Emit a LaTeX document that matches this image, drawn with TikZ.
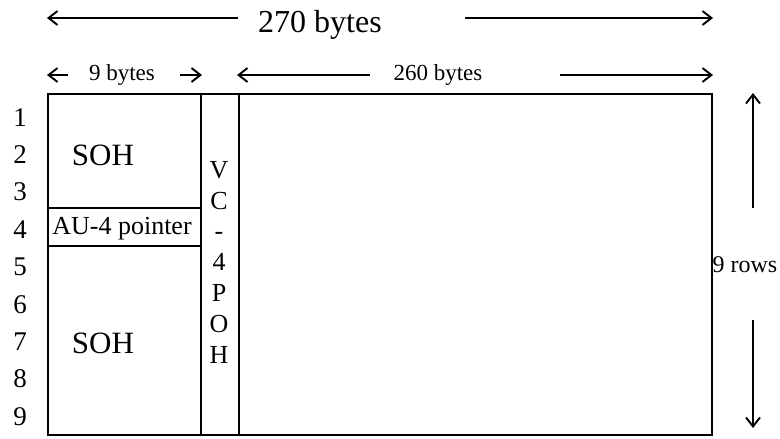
\documentclass[tikz,border=0pt]{standalone}
\usepackage{fontspec}
\setmainfont{Liberation Serif}
\usetikzlibrary{arrows.meta}
\begin{document}
\begin{tikzpicture}[x=1pt,y=-1pt,
  dimarrow/.style={line width=1.7pt,-{Straight Barb[length=9pt,width=14pt,line width=1.9pt]}},
  lbl/.style={inner sep=0pt,anchor=base},
  frame/.style={line width=1.6pt},
  thinframe/.style={line width=1.1pt}]
\useasboundingbox (0,0) rectangle (780,439);
% main frame
\draw[frame] (48,94) rectangle (712,435);
\draw[line width=2.2pt] (201,94) -- (201,435);
\draw[thinframe] (239,94) -- (239,435);
\draw[frame] (48,208) -- (201,208);
\draw[frame] (48,246) -- (201,246);
% texts
\node[lbl,font=\fontsize{32}{38}\selectfont] (t270) at (320,32) {270 bytes};
\node[lbl,font=\fontsize{23}{28}\selectfont] (t9) at (122,80) {9 bytes};
\node[lbl,font=\fontsize{23}{28}\selectfont] (t260) at (438,80) {260 bytes};
\node[lbl,font=\fontsize{31}{36}\selectfont] (soh1) at (103,165) {SOH};
\node[lbl,font=\fontsize{31}{36}\selectfont] (soh2) at (103,353) {SOH};
\node[lbl,font=\fontsize{26}{30}\selectfont] (au) at (122,234) {AU-4 pointer};
\node[lbl,font=\fontsize{24}{28}\selectfont] (rows) at (745,272) {9 rows};
\node[inner sep=0pt,anchor=north,align=center,font=\fontsize{26}{30.8}\selectfont] (vc) at (219,161) {V\\C\\-\\4\\P\\O\\H};
\foreach \i in {1,...,9}{
  \node[lbl,font=\fontsize{27}{30}\selectfont] (r\i) at (20,{126+37.4*(\i-1)}) {\i};
}
% arrow coordinates
\coordinate (a1s) at (238,18); \coordinate (a1e) at (47,18);
\coordinate (a2s) at (465,18); \coordinate (a2e) at (713,18);
\coordinate (b1s) at (68,75); \coordinate (b1e) at (47,75);
\coordinate (b2s) at (180,75); \coordinate (b2e) at (202,75);
\coordinate (b3s) at (370,75); \coordinate (b3e) at (237,75);
\coordinate (b4s) at (560,75); \coordinate (b4e) at (713,75);
\coordinate (v1s) at (753,208); \coordinate (v1e) at (753,93);
\coordinate (v2s) at (753,320); \coordinate (v2e) at (753,428);
\draw[dimarrow] (a1s) -- (a1e);
\draw[dimarrow] (a2s) -- (a2e);
\draw[dimarrow] (b1s) -- (b1e);
\draw[dimarrow] (b2s) -- (b2e);
\draw[dimarrow] (b3s) -- (b3e);
\draw[dimarrow] (b4s) -- (b4e);
\draw[dimarrow] (v1s) -- (v1e);
\draw[dimarrow] (v2s) -- (v2e);
\end{tikzpicture}
\end{document}
